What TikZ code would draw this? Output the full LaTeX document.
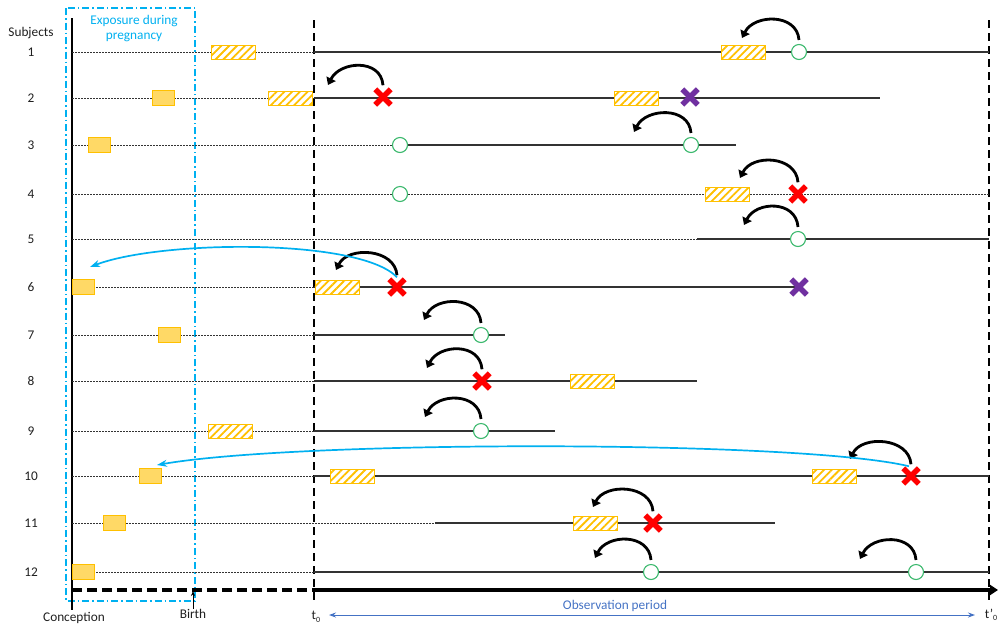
\documentclass[tikz,border=0pt]{standalone}
\usepackage{fontspec}
\setmainfont{Carlito}
\usetikzlibrary{arrows.meta,patterns.meta,shapes.misc}
\definecolor{gold}{RGB}{255,192,0}
\definecolor{goldfill}{RGB}{255,217,102}
\definecolor{okgreen}{RGB}{60,185,110}
\definecolor{eventred}{RGB}{255,0,0}
\definecolor{eventpurple}{RGB}{112,48,160}
\definecolor{skyblue}{RGB}{0,176,240}
\definecolor{periodblue}{RGB}{68,114,196}
\tikzset{
  lbl/.style={font=\fontsize{13.3}{15}\selectfont, text=black!88, inner sep=0pt},
  dotline/.style={draw=black!80, line width=1pt, dash pattern=on 1.5pt off 1.5pt},
  fullline/.style={draw=black!80, line width=1.1pt},
  tline/.style={draw=black, line width=2pt, dash pattern=on 8pt off 5pt},
  expo/.style={draw=skyblue, line width=1.2pt, dash pattern=on 7pt off 3pt on 1.5pt off 3pt},
  exposed/.style={draw=gold, line width=0.9pt, fill=goldfill, minimum width=22pt, minimum height=15pt, inner sep=0pt},
  hatchbox/.style={draw=gold, line width=0.9pt, preaction={fill=white},
    pattern={Lines[angle=45,distance=5.5pt,line width=1.8pt]}, pattern color=gold,
    minimum width=44pt, minimum height=14pt, inner sep=0pt},
  censor/.style={circle, draw=okgreen, line width=1.1pt, fill=white, minimum size=15pt, inner sep=0pt},
  eventx/.style={cross out, draw=eventred, line width=5.5pt, minimum size=10pt, inner sep=0pt},
  deathx/.style={cross out, draw=eventpurple, line width=5.5pt, minimum size=10pt, inner sep=0pt},
  lookback/.style={draw=black, line width=2.8pt, -{Triangle[length=7pt,width=10pt]}},
  linkarc/.style={draw=skyblue, line width=1.7pt, -{Stealth[length=10pt,width=7pt]}},
}
\begin{document}
\begin{tikzpicture}[x=1pt,y=-1pt]
\useasboundingbox (0,0) rectangle (998,625);

% pregnancy window, conception, t0 and t'0
\draw[expo] (66,8) rectangle (195,601);
\node[lbl, text=skyblue, align=center] (expolbl) at (134,29) {Exposure during\\pregnancy};
\draw[line width=2.5pt] (72,18) -- (72,610);
\draw[tline] (314,20) -- (314,604);
\draw[tline] (989,20) -- (989,603);

% subject labels
\node[lbl] (subj) at (31,33) {Subjects};
\foreach \n/\y in {1/52,2/98,3/145,4/194,5/239,6/287,7/335,8/381,9/431,10/476,11/523,12/572}
  \node[lbl] (s\n) at (31,\y) {\n};

% timelines of each subject
\draw[dotline] (72,52) -- (314,52);   \draw[fullline] (314,52) -- (989,52);
\draw[dotline] (72,98) -- (314,98);   \draw[fullline] (314,98) -- (880,98);
\draw[dotline] (72,145) -- (400,145); \draw[fullline] (400,145) -- (736,145);
\draw[dotline] (72,194) -- (989,194);
\draw[dotline] (72,239) -- (697,239); \draw[fullline] (697,239) -- (989,239);
\draw[dotline] (72,287) -- (314,287); \draw[fullline] (314,287) -- (799,287);
\draw[dotline] (72,335) -- (314,335); \draw[fullline] (314,335) -- (505,335);
\draw[dotline] (72,381) -- (314,381); \draw[fullline] (314,381) -- (697,381);
\draw[dotline] (72,431) -- (314,431); \draw[fullline] (314,431) -- (555,431);
\draw[dotline] (72,476) -- (314,476); \draw[fullline] (314,476) -- (989,476);
\draw[dotline] (72,523) -- (435,523); \draw[fullline] (435,523) -- (775,523);
\draw[dotline] (72,572) -- (314,572); \draw[fullline] (314,572) -- (989,572);

% exposures
\node[hatchbox] (h1a) at (233.5,52) {};
\node[hatchbox] (h1b) at (743.5,52) {};
\node[exposed]  (e2)  at (163.5,98) {};
\node[hatchbox] (h2a) at (290.5,98) {};
\node[hatchbox] (h2b) at (636.5,98) {};
\node[exposed]  (e3)  at (99,145) {};
\node[hatchbox] (h4)  at (727.5,194) {};
\node[exposed]  (e6)  at (83,287) {};
\node[hatchbox] (h6)  at (337,287) {};
\node[exposed]  (e7)  at (169.5,335) {};
\node[hatchbox] (h8)  at (592.5,381) {};
\node[hatchbox] (h9)  at (230,431) {};
\node[exposed]  (e10) at (150.5,476) {};
\node[hatchbox] (h10a) at (352.5,476) {};
\node[hatchbox] (h10b) at (834.5,476) {};
\node[exposed]  (e11) at (114,523) {};
\node[hatchbox] (h11) at (595,523) {};
\node[exposed]  (e12) at (83,572) {};

% outcomes
\node[censor] (c1)  at (799,52) {};
\node[eventx] (x2)  at (383,97) {};
\node[deathx] (p2)  at (690,97) {};
\node[censor] (c3a) at (400,145) {};
\node[censor] (c3b) at (691,145) {};
\node[censor] (c4)  at (400,194) {};
\node[eventx] (x4)  at (798,194) {};
\node[censor] (c5)  at (798,239) {};
\node[eventx] (x6)  at (397,287) {};
\node[deathx] (p6)  at (799,287) {};
\node[censor] (c7)  at (481,335) {};
\node[eventx] (x8)  at (482,381) {};
\node[censor] (c9)  at (481,431) {};
\node[eventx] (x10) at (911,476) {};
\node[eventx] (x11) at (653,523) {};
\node[censor] (c12a) at (651,572) {};
\node[censor] (c12b) at (916,572) {};

% look-back windows
\foreach \m/\tx/\ty in {c1/742/38, x2/328/85, c3b/634/132, x4/740/178, c5/744/225,
    x6/336/270, c7/424/320, x8/427/368, c9/425/417, x10/850/459, x11/593/507,
    c12a/595/558, c12b/860/559}{
  \coordinate (t-\m) at (\tx,\ty);
  \draw[lookback] ([yshift=4pt]\m.north) .. controls +(-2,-27) and +(12,-24) .. (t-\m);
}

% links back to the pregnancy exposure
\coordinate (b6) at (90,267);
\draw[linkarc] ([yshift=2pt]x6.north) .. controls (360,238) and (160,240) .. (b6);
\coordinate (b10) at (157,465);
\draw[linkarc] ([xshift=-2pt,yshift=2pt]x10.north) .. controls (800,440) and (300,440) .. (b10);

% time axis
\draw[line width=3.6pt, dash pattern=on 10pt off 5pt] (72,590) -- (314,590);
\coordinate (axend) at (998,590);
\draw[line width=3.6pt, -{Triangle[length=8pt,width=10pt]}] (314,590) -- (axend);

\node[lbl] (concl) at (74,618) {Conception};
\node[lbl] (birth) at (193,614) {Birth};
\coordinate (birthpt) at (193,591);
\draw[line width=0.7pt, -{Stealth[length=5pt,width=4pt]}] (birth.north) -- (birthpt);
\node[lbl] (t0) at (316,617) {t\raisebox{-2.5pt}{\fontsize{8}{8}\selectfont 0}};
\node[lbl] (t1) at (991,615) {t’\raisebox{-2.5pt}{\fontsize{8}{8}\selectfont 0}};
\node[lbl, text=periodblue] (obs) at (615,606) {Observation period};
\coordinate (obsL) at (329,615);
\coordinate (obsR) at (975,615);
\draw[periodblue, line width=1pt, {Stealth[length=7pt,width=5pt]}-{Stealth[length=7pt,width=5pt]}] (obsL) -- (obsR);
\end{tikzpicture}
\end{document}
